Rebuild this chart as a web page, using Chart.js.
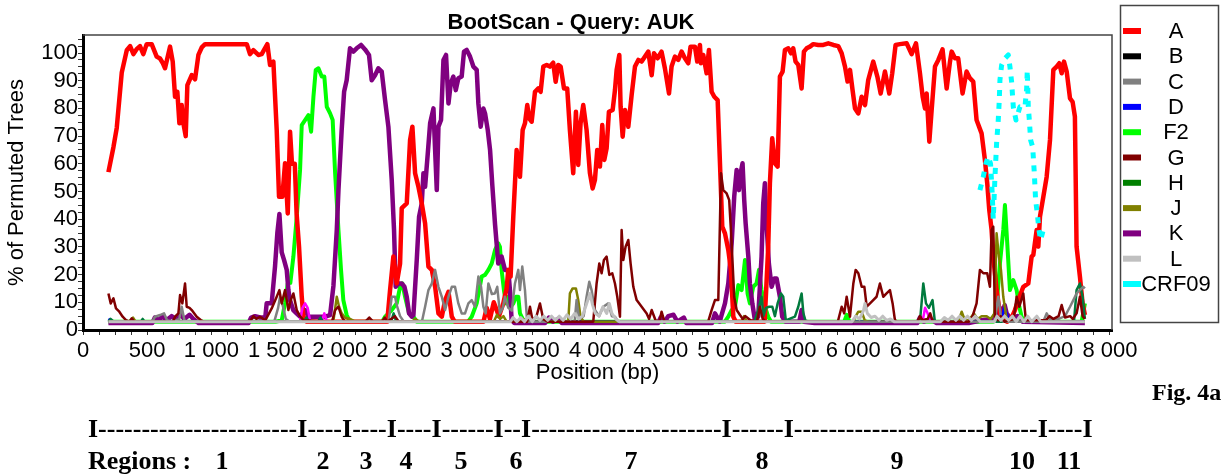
<!DOCTYPE html>
<html>
<head>
<meta charset="utf-8">
<script src="https://cdn.jsdelivr.net/npm/chart.js@4.4.1/dist/chart.umd.min.js"></script>
<style>
body { margin: 0; background: #fff; width: 1222px; height: 476px; overflow: hidden; position: relative; }
#bootscan { position: absolute; left: 0; top: 0; }
.serif { position: absolute; font-family: "Liberation Serif", "Times New Roman", serif; font-weight: bold; white-space: pre; line-height: 1; color: #000; }
.num { transform: translateX(-50%); }
</style>
</head>
<body>
<canvas id="bootscan" width="1222" height="476"></canvas>
<div class="serif" id="fig" style="left:1152px;top:380px;font-size:24px"></div>
<div class="serif" id="regLine" style="left:88px;top:416px;font-size:26px"></div>
<div id="regLabels"></div>
<script>
// BootScan of query AUK, window positions (bp) vs % of permuted trees
const titleText = 'BootScan - Query: AUK';
const xTickValues = [0, 500, 1000, 1500, 2000, 2500, 3000, 3500, 4000, 4500, 5000, 5500, 6000, 6500, 7000, 7500, 8000];
const yTickValues = [0, 10, 20, 30, 40, 50, 60, 70, 80, 90, 100];

const ptsA = [[198,57],[237,66],[263,73],[302,93],[341,101],[367,102.5],[393,99.6],[420,101.5],[444,102.5],[470,99.6],[496,103.2],[535,103.2],[574,98.7],[600,98],[620,96.5],[639,94.5],[678,102.3],[699,96.9],[717,84.2],[735,86],[751,74.6],[769,81.2],[782,74.6],[800,70],[813,88.4],[847,92],[873,90.5],[899,99.3],[925,102],[951,103.2],[1276,103.2],[1301,99.6],[1327,101],[1366,99.3],[1392,99.6],[1436,103.2],[1457,95.7],[1483,96.9],[1509,72.2],[1527,48.1],[1553,48.1],[1574,60.2],[1595,42.1],[1613,71.6],[1628,60],[1650,60],[1664,42],[1683,30],[1704,12],[1717,4.8],[1740,3],
  [2370,3],[2392,14.4],[2418,26.5],[2444,16.8],[2470,24],[2483,44],[2522,45.7],[2548,68.6],[2566,73.4],[2587,56.6],[2613,51.7],[2639,45.7],[2665,38.5],[2691,22.9],[2717,21.7],[2743,15.6],[2769,6],[2795,4.8],[2821,10.8],[2847,13.8],[2873,4.8],[2895,3],
  [3120,3],[3145,8],[3170,4],[3200,10],[3240,5],[3274,9.6],[3300,15],[3313,21.7],[3331,19.3],[3352,40.9],[3378,65],[3404,55.3],[3425,72.2],[3443,74.6],[3461,81.2],[3476,76.4],[3495,75.2],[3521,86],[3547,87.2],[3565,86],[3586,95.1],[3612,95.7],[3637,95.1],[3663,96.5],[3682,89.6],[3702,95.7],[3721,95.1],[3747,87.2],[3772,87.2],[3793,72.2],[3819,56.6],[3840,78.8],[3858,59.6],[3876,74.6],[3897,81.2],[3923,72.2],[3949,56.6],[3970,51.1],[3988,54.2],[4006,65],[4027,59],[4045,74],[4061,61.4],[4079,65.6],[4097,78.8],[4126,79.4],[4144,86.6],[4157,93.9],[4178,99.3],[4188,80.6],[4204,69.8],[4222,79.4],[4248,73.4],[4274,84.8],[4300,95.1],[4326,97.5],[4352,96.9],[4378,98.7],[4404,100.5],[4430,92],[4448,99.9],[4476,98.1],[4507,100.5],[4533,94.5],[4565,85.4],[4585,95.1],[4611,98.7],[4637,97.5],[4663,100.5],[4689,98.1],[4715,96.3],[4733,102.3],[4767,102.3],[4785,96.9],[4806,102.9],[4814,96.3],[4832,99.3],[4858,92.7],[4876,101.1],[4897,86],[4918,84.2],[4944,83],[4962,60.2],[4980,37.3],[5001,34.9],[5027,28.9],[5047,21.7],[5066,4.8],[5085,3],
  [5310,3],[5338,30],[5351,53],[5369,69.2],[5390,60.2],[5411,59],[5429,91.5],[5450,93.3],[5468,101.1],[5494,101.7],[5515,99.9],[5533,101.7],[5551,96.9],[5572,95.7],[5598,87.2],[5616,100.5],[5637,101.7],[5663,102.3],[5689,103.2],[5728,102.9],[5767,102.9],[5806,103.5],[5845,102.9],[5884,102.5],[5910,99.9],[5936,95.1],[5956,89.7],[5975,93.9],[5995,86.6],[6014,80],[6040,78.2],[6066,84.2],[6092,81.2],[6117,90.2],[6156,96.9],[6188,91.5],[6214,85.4],[6247,93.3],[6281,85.4],[6304,92.7],[6330,102.9],[6364,103.2],[6416,103.5],[6455,99.6],[6489,103.5],[6520,92.7],[6541,84.2],[6559,80],[6572,85.4],[6593,68],[6611,79.4],[6637,95.1],[6663,97.5],[6696,101.3],[6728,87.2],[6754,96.9],[6767,100.5],[6793,98.1],[6818,98.1],[6852,85.4],[6883,93.3],[6909,90.9],[6935,89.7],[6961,75.8],[7000,71],[7026,61.4],[7044,53],[7060,43.3],[7078,36.1],[7091,26.5],[7117,14.4],[7143,6],[7169,3.6],[7200,3],[7230,4],[7260,7.2],[7286,10.8],[7325,15.6],[7364,16.8],[7390,26.5],[7403,27.1],[7429,36.1],[7442,30.1],[7455,40.9],[7481,48.1],[7507,55.3],[7533,68.6],[7559,93.9],[7585,95.1],[7605,96.3],[7624,92.7],[7642,96.9],[7663,93.3],[7689,83.6],[7709,82.4],[7727,77],[7740,30.1],[7766,19.3],[7787,9.6],[7805,5.4]];

const ptsB = [[198,3],[7805,3]];

const ptsC = [[198,3],[540,3],[561,4.8],[600,5.4],[631,6],[655,3.5],[700,3],[750,4],[769,8.4],[790,3.5],[820,3],[1490,3],[1520,8],[1535,12],[1555,9],[1580,4],[1610,3],[2380,3],[2405,12],[2431,12],[2444,9],[2470,5],[2500,3],[2640,3],[2665,8.4],[2691,14.4],[2717,16.8],[2743,21.7],[2769,15.6],[2795,12],[2821,7.2],[2847,12],[2873,15.6],[2898,15.6],[2924,9.6],[2950,6],[2976,6],[3002,9.6],[3028,10.8],[3054,8.4],[3080,19.3],[3101,15.6],[3119,8.4],[3137,6],[3158,16.8],[3185,13],[3209,13.2],[3227,15.6],[3248,6],[3270,8],[3287,12],[3313,8],[3340,7],[3365,16.8],[3391,21.7],[3404,14.4],[3422,22.9],[3443,14.4],[3460,3],[3830,3],[3845,10.8],[3865,4],[3900,5],[3923,12],[3944,17.4],[3962,14.4],[3988,7.2],[4020,5],[4053,8.4],[4092,9.6],[4120,5],[4144,4.8],[4170,3],[7100,3],[7117,8],[7130,12],[7150,5],[7170,3],[7480,3],[7507,6],[7530,4],[7600,4],[7650,5],[7689,8.4],[7715,10.8],[7740,13.2],[7766,14.4],[7792,15.6],[7805,15]];

const ptsD = [[198,4],[215,3.5],[230,3],[7150,3],[7175,8],[7195,6],[7215,3],[7805,3]];

const ptsF2 = [[198,3],[1500,3],[1548,3.5],[1575,10],[1595,16.8],[1615,17],[1639,26.5],[1665,40.9],[1691,57.8],[1704,74],[1730,75.8],[1756,77.6],[1777,71.6],[1795,84.2],[1813,93.9],[1834,94.5],[1860,91.5],[1880,91.5],[1899,80.6],[1925,78.2],[1945,75.8],[1964,56.6],[1990,36.1],[2010,21.7],[2028,10.8],[2054,5.4],[2080,3],[2330,3],[2353,4.8],[2380,6],[2405,7.2],[2444,9.6],[2470,15.6],[2488,16.8],[2509,12],[2540,6],[2574,4.8],[2600,3],[3000,3],[3028,4.8],[3067,9.6],[3106,19.3],[3132,19.9],[3158,21.7],[3184,24],[3210,28.9],[3235,31.3],[3248,30],[3261,21.7],[3279,14.4],[3295,9.6],[3313,12],[3331,8.4],[3352,9.6],[3373,12],[3391,12],[3404,6],[3430,3.6],[3450,3],[5000,3],[5027,4.8],[5053,7.2],[5079,8.4],[5105,16.2],[5131,14.4],[5157,25.3],[5177,13.2],[5195,9.6],[5221,15.6],[5247,16.8],[5266,21.7],[5286,14.4],[5312,8.4],[5338,4.8],[5360,3],[5930,3],[5950,5.5],[5970,3],[7090,3],[7117,8.4],[7143,24],[7169,36.1],[7182,45.1],[7200,31.3],[7221,14.4],[7247,18],[7273,14.4],[7294,8.4],[7312,4.8],[7330,3],[7780,3],[7805,9.6]];

const ptsG = [[198,13.2],[216,9.6],[237,11.4],[257,7.8],[283,6.6],[309,4.8],[335,3.6],[360,3],[380,4.2],[400,3],[700,3],[717,4.8],[743,6],[756,12.6],[774,9.6],[795,16.8],[808,8.4],[830,8],[847,7.2],[886,4.8],[917,3.6],[940,3],[1300,3],[1327,5],[1350,4],[1379,4.8],[1420,3.5],[1470,7.8],[1509,12],[1530,14.4],[1548,9.6],[1574,14.4],[1600,7.2],[1620,11],[1639,13.2],[1665,7.2],[1690,5],[1717,3.5],[1940,3],[1964,7.2],[1990,8.4],[2015,4.8],[2040,3],[2200,3],[2230,4.5],[2260,3],[2330,3],[2350,4.5],[2370,3],[2430,5],[2460,3],[3460,3],[3482,8.4],[3500,4],[3530,4.5],[3560,9.6],[3585,4],[3620,3],[3975,3],[4001,16.8],[4022,24],[4040,20.5],[4058,25.3],[4079,26.5],[4100,19.9],[4123,20.5],[4144,16.8],[4162,12],[4183,4.8],[4196,36.1],[4209,25.3],[4227,30.1],[4248,32.5],[4266,24],[4287,15.6],[4313,10.8],[4352,8.4],[4391,6],[4410,4],[4430,7.2],[4460,3.5],[4490,3],[4507,6.6],[4530,3],[4870,3],[4897,7.2],[4923,10.8],[4949,10.8],[4970,56.6],[4988,50.5],[5014,49.3],[5034,46.9],[5053,31.3],[5073,12],[5092,7.2],[5118,5.4],[5140,4],[5160,5],[5200,3.5],[5250,3],[5273,8.4],[5295,4],[5320,3],[5880,3],[5910,8.4],[5930,6],[5949,12],[5975,4.8],[6001,16.8],[6019,21.7],[6040,20.5],[6066,15.6],[6087,15.6],[6105,8.4],[6131,9.6],[6156,10.8],[6182,12],[6208,16.8],[6234,12],[6260,13.2],[6286,14.4],[6307,9.6],[6325,3.6],[6345,3],[6500,3],[6520,5],[6540,3.5],[6580,4],[6600,6],[6620,3],[6900,3],[6930,5],[6961,9.6],[6987,21.7],[7013,20.5],[7044,20.5],[7065,15.6],[7078,36.1],[7091,37.3],[7104,4.8],[7130,3.5],[7150,5],[7180,3],[7250,4],[7273,12],[7294,8.4],[7325,13.2],[7345,3.5],[7500,3.5],[7530,5],[7560,4],[7600,5],[7624,9],[7650,4.5],[7690,5],[7710,4],[7740,6],[7766,12],[7787,5],[7805,4]];

const ptsH = [[198,3],[215,4],[240,3],[450,3],[465,4],[480,3],[1720,3],[1740,4.5],[1760,3],[1830,3],[1850,4.5],[1870,3],[2400,3],[2420,6],[2440,3],[5230,3],[5260,7.2],[5286,12],[5300,5],[5320,8],[5345,8.4],[5370,8.4],[5390,5],[5411,9.6],[5437,13.2],[5455,12],[5475,3.5],[5546,4.8],[5572,8.4],[5598,13.2],[5612,6],[5630,3],[6520,3],[6546,16.8],[6567,9.6],[6590,8],[6618,10.8],[6636,3],[7720,3],[7740,14.4],[7766,16.8],[7787,12],[7805,4]];

const ptsJ = [[198,3],[370,3],[390,4.5],[410,3],[1950,3],[1965,8],[1977,12],[1995,8.4],[2015,6],[2040,4.5],[2080,4],[2120,3],[2560,3],[2590,4],[2620,3],[3200,3],[3225,5.5],[3250,4],[3275,5],[3300,3],[3400,3],[3430,4],[3460,3],[3780,3],[3793,13.2],[3814,15],[3840,15],[3858,10.8],[3876,4.8],[3900,3],[5130,3],[5150,5],[5170,3],[6000,3],[6020,5],[6040,6.6],[6066,6.6],[6090,3.5],[6120,3],[6820,3],[6845,6.6],[6870,3.5],[6900,3.5],[6940,6],[6970,4],[7000,5],[7040,5],[7070,4],[7100,6],[7117,34.9],[7135,26.5],[7151,21.7],[7169,12],[7195,4],[7220,3],[7805,3]];

const ptsK = [[198,2.5],[540,2.5],[560,4.5],[590,3.5],[620,5],[650,3.5],[690,5],[720,4],[760,5.5],[790,4],[830,5.5],[860,4],[900,2.5],[1290,2.5],[1310,4.5],[1340,5],[1380,4.5],[1420,4.5],[1431,9.7],[1470,9.7],[1496,23],[1514,35],[1530,41.9],[1548,28],[1566,25.3],[1587,21.7],[1600,14.4],[1612,10.8],[1638,7.2],[1664,6],[1691,4.8],[1730,7.2],[1756,4.8],[1834,4.8],[1886,4.8],[1925,5.4],[1951,16],[1977,36.1],[1990,50.5],[2015,72.2],[2034,86],[2054,90.2],[2080,101.7],[2106,100.5],[2132,101.7],[2166,102.9],[2197,101.3],[2228,99.3],[2249,90.2],[2275,92],[2301,94.5],[2327,93.3],[2353,83],[2379,73.4],[2405,54.2],[2423,36.1],[2436,15.6],[2457,16.8],[2483,16.8],[2504,15.6],[2522,12],[2540,6],[2561,4.8],[2574,5.4],[2600,25.3],[2618,40.9],[2639,45.7],[2652,56.6],[2665,51.7],[2686,63.8],[2704,74.6],[2730,80],[2743,65],[2756,50.5],[2769,73.4],[2789,75.8],[2808,97.5],[2828,99.3],[2847,81.8],[2865,89.1],[2885,91.5],[2904,86.6],[2924,90.9],[2950,91.5],[2968,100.5],[2989,101.1],[3015,98.7],[3041,95.1],[3067,93.9],[3080,81.8],[3098,73.4],[3119,80],[3132,78.2],[3153,72.2],[3171,65],[3189,52],[3210,38],[3222,31.3],[3235,24],[3261,26.5],[3287,21.7],[3313,21.7],[3326,14.4],[3339,3.6],[3360,2.5],[3600,2.5],[3630,4.5],[3660,3],[3700,4],[3730,2.5],[4480,2.5],[4500,4.5],[4530,3],[4560,5],[4600,5.5],[4630,3],[4680,4.5],[4700,2.5],[4900,2.5],[4923,6],[4960,3],[5001,9.6],[5027,16.8],[5053,31.3],[5073,48.1],[5092,57.8],[5110,50.5],[5123,56.6],[5138,60.2],[5151,46.9],[5162,38.5],[5183,26.5],[5195,16.8],[5214,9.6],[5234,3.6],[5260,4.8],[5286,26.5],[5299,45.7],[5312,53],[5325,38.5],[5343,24],[5364,15.6],[5385,18.6],[5403,18.6],[5429,12],[5447,4.8],[5470,3],[5580,3],[5598,7.2],[5615,3],[5700,2.5],[6500,2.5],[6520,4.5],[6550,3],[6600,4],[6650,2.5],[6900,2.5],[7000,3.5],[7080,4],[7130,5],[7143,8],[7160,6],[7180,9],[7195,6],[7230,4],[7280,5],[7320,3],[7805,2.5]];

const ptsL = [[198,3],[3330,3],[3350,4.5],[3380,3],[3410,4.5],[3440,3],[3470,5],[3500,3],[3530,5],[3560,3.5],[3590,5],[3620,3.5],[3650,5],[3680,3.5],[3710,5],[3740,3.5],[3770,5.5],[3800,4],[3830,6],[3860,4],[3890,5],[3920,9],[3949,13.2],[3970,9],[3990,6],[4020,5],[4050,8.4],[4080,6],[4100,9.6],[4120,6],[4150,4],[4180,3],[5990,3],[6020,5],[6050,4],[6080,7],[6092,9.6],[6110,6],[6140,4.5],[6170,5],[6200,3.5],[6230,5],[6260,3.5],[6290,4],[6320,3],[6680,3],[6710,4.5],[6740,3.5],[6770,5],[6800,3.5],[6830,5],[6860,3.5],[6890,5],[6920,3.5],[6950,5],[6990,3],[7100,3],[7120,5],[7150,3.5],[7180,5],[7210,3.5],[7240,5],[7270,3],[7300,5],[7330,3],[7360,5],[7390,3],[7430,5],[7460,3],[7805,3]];

const ptsCRF09 = [[6987,50.5],[7013,55.3],[7034,60.2],[7052,62.6],[7070,60],[7082,50],[7091,40],[7104,55],[7117,67.4],[7130,75.8],[7138,83],[7143,90.2],[7156,95.6],[7182,98],[7208,99.3],[7221,95],[7234,89.6],[7247,80.6],[7268,75.8],[7299,80.6],[7338,80.6],[7351,87],[7356,93.8],[7364,80.6],[7372,75.8],[7382,68.6],[7398,66.1],[7411,56.5],[7421,46.9],[7434,42.1],[7447,36.1],[7460,32.5],[7481,36.3]];

// unlabelled magenta trace (not in the legend)
const ptsOther = [[198,3],[1690,3],[1710,8],[1730,9.6],[1750,8],[1770,3],[1860,3],[1880,6],[1900,3],[6540,3],[6560,8],[6580,6],[6600,3],[7805,3]];

const seriesNames = ['A', 'B', 'C', 'D', 'F2', 'G', 'H', 'J', 'K', 'L', 'CRF09'];
const seriesPoints = [ptsA, ptsB, ptsC, ptsD, ptsF2, ptsG, ptsH, ptsJ, ptsK, ptsL, ptsCRF09];

const regionNames = ['1', '2', '3', '4', '5', '6', '7', '8', '9', '10', '11'];

// styles
const lineStyle = {
    A: { color: '#ff0000', width: 4.5, order: 9 },
    B: { color: '#000000', width: 2.5, order: 7 },
    C: { color: '#808080', width: 2.5, order: 3 },
    D: { color: '#0000ff', width: 2.5, order: 6 },
    F2: { color: '#00ff00', width: 4, order: 11 },
    G: { color: '#800000', width: 2.5, order: 2 },
    H: { color: '#007a3d', width: 2.5, order: 5 },
    J: { color: '#808000', width: 2.5, order: 4 },
    K: { color: '#800080', width: 4.5, order: 10 },
    L: { color: '#c0c0c0', width: 3, order: 1 },
    CRF09: { color: '#00ffff', width: 5, order: 0, dash: [6, 7] },
};
const legendColor = { H: '#008000' };

const font = '"Liberation Sans", Arial, Helvetica, sans-serif';
const fmt = v => String(v).replace(/\B(?=(\d{3})+(?!\d))/g, ' ');

const datasets = seriesNames.map((name, i) => ({
    label: name,
    data: seriesPoints[i].map(p => ({ x: p[0], y: p[1] })),
    borderColor: lineStyle[name].color,
    borderWidth: lineStyle[name].width,
    borderDash: lineStyle[name].dash || [],
    order: lineStyle[name].order,
}));
datasets.push({
    label: '',
    data: ptsOther.map(p => ({ x: p[0], y: p[1] })),
    borderColor: '#ff00ff',
    borderWidth: 2.5,
    order: 8,
});

const decor = {
    id: 'decor',
    afterDraw(chart) {
        const { ctx, chartArea: a } = chart;
        ctx.save();
        // thin frame on top and right
        ctx.strokeStyle = '#444';
        ctx.lineWidth = 1.5;
        ctx.beginPath();
        ctx.moveTo(a.left, a.top);
        ctx.lineTo(a.right, a.top);
        ctx.lineTo(a.right, a.bottom);
        ctx.stroke();

        // title
        ctx.fillStyle = '#000';
        ctx.font = 'bold 22px ' + font;
        ctx.textAlign = 'center';
        ctx.textBaseline = 'middle';
        ctx.fillText(titleText, 571, 23);

        // legend box
        ctx.strokeStyle = '#444';
        ctx.lineWidth = 1.5;
        ctx.strokeRect(1120.5, 5.5, 98, 317);
        ctx.font = '22px ' + font;
        seriesNames.forEach((name, i) => {
            const y = 31 + i * 25.3;
            ctx.strokeStyle = legendColor[name] || lineStyle[name].color;
            ctx.lineWidth = 6;
            ctx.beginPath();
            ctx.moveTo(1123, y);
            ctx.lineTo(1141, y);
            ctx.stroke();
            ctx.fillStyle = '#000';
            ctx.fillText(name, 1176, y + 1);
        });
        ctx.restore();
    }
};

new Chart(document.querySelector('#bootscan'), {
    type: 'line',
    data: { datasets },
    options: {
        responsive: false,
        animation: false,
        events: [],
        layout: { padding: { left: 0, top: 35, right: 110, bottom: 86 } },
        elements: {
            point: { radius: 0 },
            line: { tension: 0, borderCapStyle: 'butt', borderJoinStyle: 'round' },
        },
        plugins: {
            legend: { display: false },
            tooltip: { enabled: false },
            title: { display: false },
        },
        scales: {
            x: {
                type: 'linear',
                min: 0,
                max: 8016,
                afterFit: s => { s.height = 60; },
                afterBuildTicks: s => {
                    const t = [];
                    for (let v = xTickValues[0]; v <= xTickValues[xTickValues.length - 1]; v += 125) t.push({ value: v });
                    s.ticks = t;
                },
                ticks: {
                    autoSkip: false,
                    maxRotation: 0,
                    padding: 3,
                    color: '#000',
                    font: { family: font, size: 22 },
                    callback: v => xTickValues.includes(v) ? fmt(v) : '',
                },
                grid: { drawOnChartArea: false, drawTicks: true, tickLength: 5, tickColor: '#333' },
                border: { display: true, color: '#000', width: 3 },
                title: { display: true, text: 'Position (bp)', color: '#000', font: { family: font, size: 22 }, padding: { top: 0, bottom: 4 } },
            },
            y: {
                min: 0,
                max: 106.5,
                afterFit: s => { s.width = 83; },
                afterBuildTicks: s => {
                    const t = [];
                    for (let v = 0; v <= 105; v += 2.5) t.push({ value: v });
                    s.ticks = t;
                },
                ticks: {
                    autoSkip: false,
                    padding: 0,
                    color: '#000',
                    font: { family: font, size: 22 },
                    callback: v => yTickValues.includes(v) ? String(v) : '',
                },
                grid: { drawOnChartArea: false, drawTicks: true, tickLength: 5, tickColor: '#333' },
                border: { display: true, color: '#000', width: 3 },
                title: { display: true, text: '% of Permuted Trees', color: '#000', font: { family: font, size: 22 }, padding: { top: 4, bottom: 0 } },
            },
        },
    },
    plugins: [decor],
});

// figure caption and region ruler (text below the chart)
document.querySelector('#fig').textContent = 'Fig. 4a';
const dashCounts = [23, 4, 4, 4, 6, 2, 22, 6, 22, 5, 4];
document.querySelector('#regLine').textContent = 'I' + dashCounts.map(n => '-'.repeat(n) + 'I').join('');
const regionX = [222, 323, 366, 406, 461, 516, 631, 762, 897, 1022, 1069];
const holder = document.querySelector('#regLabels');
const head = document.createElement('div');
head.className = 'serif';
head.style.cssText = 'left:88px;top:448px;font-size:26px';
head.textContent = 'Regions :';
holder.appendChild(head);
regionNames.forEach((r, i) => {
    const d = document.createElement('div');
    d.className = 'serif num';
    d.style.cssText = 'left:' + regionX[i] + 'px;top:448px;font-size:26px';
    d.textContent = r;
    holder.appendChild(d);
});
</script>
</body>
</html>
